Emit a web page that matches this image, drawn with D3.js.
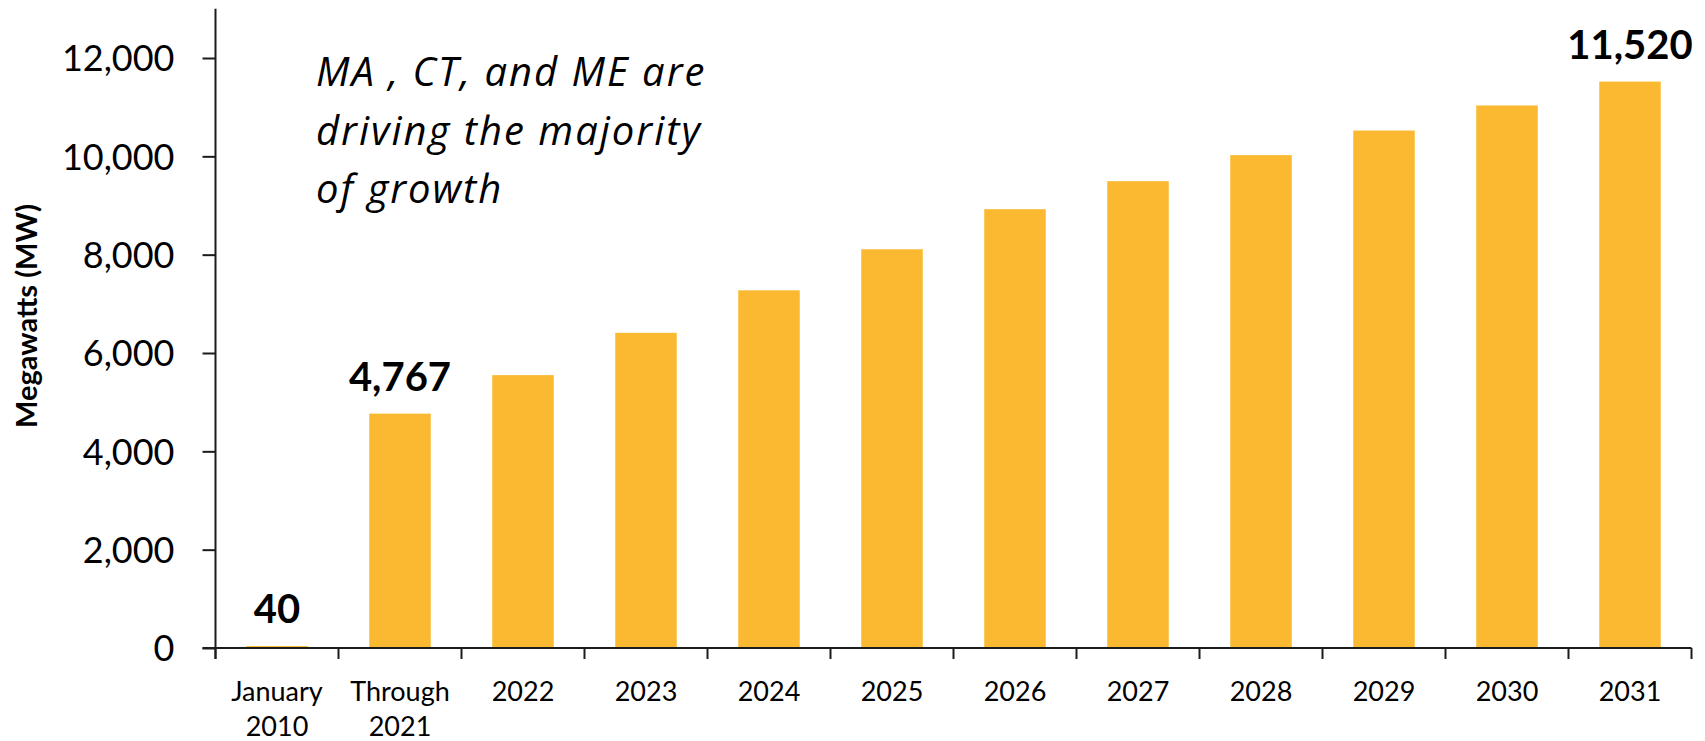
<!DOCTYPE html>
<html>
<head>
<meta charset="utf-8">
<script src="https://cdn.jsdelivr.net/npm/d3@7/dist/d3.min.js"></script>
<style>
  html, body { margin: 0; padding: 0; background: #fff; }
  svg { display: block; }
</style>
</head>
<body>
<svg id="chart" width="1705" height="741"></svg>
<script>
// Cumulative installed capacity, megawatts
const categories = ["January\n2010", "Through\n2021", "2022", "2023", "2024", "2025",
                    "2026", "2027", "2028", "2029", "2030", "2031"];
const values = [40, 4767, 5550, 6410, 7275, 8110, 8925, 9495, 10025, 10525, 11035, 11520];
// Bars that carry a value label
const labelled = ["January\n2010", "Through\n2021", "2031"];
const yTicks = [0, 2000, 4000, 6000, 8000, 10000, 12000];
const yMax = 13000;
const yTitle = "Megawatts (MW)";
const note = ["MA , CT, and ME are", "driving the majority", "of growth"];

const barColor = "#FAB931";
const axisColor = "#1c1c1c";

const svg = d3.select("#chart");
const left = 215.5, right = 1691.5, baseY = 648, top12k = 58;

const x = d3.scaleBand()
  .domain(categories)
  .range([left, right])
  .paddingInner(0.5)
  .paddingOuter(0.25);

const y = d3.scaleLinear()
  .domain([0, 12000])
  .range([baseY, top12k]);

// Bars
svg.append("g")
  .selectAll("rect")
  .data(categories.map((c, i) => ({ c, v: values[i] })))
  .join("rect")
  .attr("x", d => x(d.c))
  .attr("y", d => y(d.v))
  .attr("width", x.bandwidth())
  .attr("height", d => y(0) - y(d.v))
  .attr("fill", barColor);

// Y axis
const yAxis = d3.axisLeft(y)
  .tickValues(yTicks)
  .tickSize(13)
  .tickPadding(28)
  .tickFormat(d3.format(","));

const gy = svg.append("g")
  .attr("transform", `translate(${left},0)`)
  .call(yAxis);
gy.select(".domain").remove();
gy.selectAll(".tick line").attr("stroke", axisColor).attr("stroke-width", 2);
gy.selectAll(".tick text")
  .attr("font-family", "Lato, sans-serif")
  .attr("font-size", 36)
  .attr("fill", "#000")
  .attr("dy", "0.36em");

// Vertical axis line up to the scale maximum
svg.append("line")
  .attr("x1", left).attr("x2", left)
  .attr("y1", y(yMax)).attr("y2", baseY + 11)
  .attr("stroke", axisColor).attr("stroke-width", 2);

// Horizontal axis line
svg.append("line")
  .attr("x1", left - 13).attr("x2", right)
  .attr("y1", baseY).attr("y2", baseY)
  .attr("stroke", axisColor).attr("stroke-width", 2);

// Category boundary ticks
const bounds = d3.range(categories.length + 1).map(i => x.range()[0] + i * x.step());
svg.append("g")
  .selectAll("line")
  .data(bounds)
  .join("line")
  .attr("x1", d => d).attr("x2", d => d)
  .attr("y1", baseY).attr("y2", baseY + 11)
  .attr("stroke", axisColor).attr("stroke-width", 2);

// Category labels
const xAxis = d3.axisBottom(x).tickSize(0).tickPadding(0);
const gx = svg.append("g")
  .attr("transform", `translate(0,${baseY})`)
  .call(xAxis);
gx.select(".domain").remove();
gx.selectAll(".tick text").each(function(d) {
  const t = d3.select(this).text(null)
    .attr("font-family", "Lato, sans-serif")
    .attr("font-size", 27)
    .attr("fill", "#000")
    .attr("y", 0)
    .attr("dy", null);
  d.split("\n").forEach((line, i) => {
    t.append("tspan").attr("x", 0).attr("y", 53 + i * 35).text(line);
  });
});

// Value labels
svg.append("g")
  .selectAll("text")
  .data(categories.map((c, i) => ({ c, v: values[i] })).filter(d => labelled.includes(d.c)))
  .join("text")
  .attr("x", d => x(d.c) + x.bandwidth() / 2)
  .attr("y", d => y(d.v) - 23)
  .attr("text-anchor", "middle")
  .attr("font-family", "Lato, sans-serif")
  .attr("font-weight", "bold")
  .attr("font-size", 40)
  .attr("fill", "#000")
  .text(d => d3.format(",")(d.v));

// Y axis title
svg.append("text")
  .attr("transform", "translate(37,316) rotate(-90)")
  .attr("text-anchor", "middle")
  .attr("font-family", "Lato, sans-serif")
  .attr("font-weight", "bold")
  .attr("font-size", 29)
  .attr("fill", "#000")
  .text(yTitle);

// Annotation
svg.append("g")
  .selectAll("text")
  .data(note)
  .join("text")
  .attr("x", 316)
  .attr("y", (d, i) => 86 + i * 58.5)
  .attr("font-family", "'Open Sans', sans-serif")
  .attr("font-style", "italic")
  .attr("font-size", 40)
  .attr("letter-spacing", 2)
  .attr("fill", "#000")
  .text(d => d);
</script>
</body>
</html>
